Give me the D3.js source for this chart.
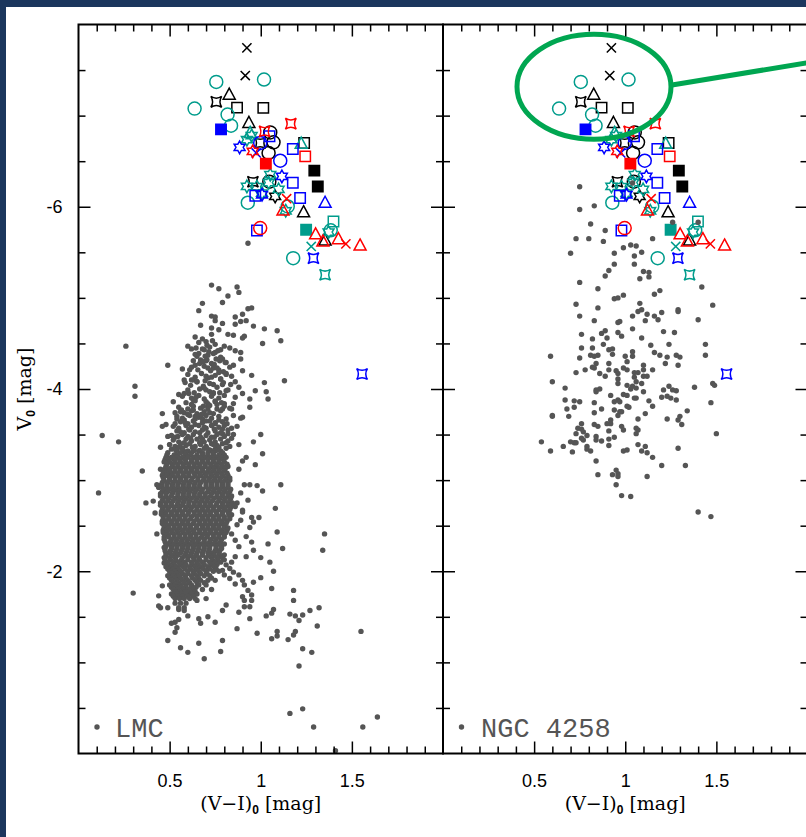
<!DOCTYPE html>
<html lang="en">
<head>
<meta charset="utf-8">
<title>LMC vs NGC 4258 CMD</title>
<script src="https://d3js.org/d3.v7.min.js"></script>
<style>
  body { margin: 0; background: #fff; }
  svg { display: block; }
</style>
</head>
<body>
<svg width="806" height="837"></svg>
<script>
// ---- tick values ----
const xMajorTicks = [0.5, 1, 1.5];
const yMajorTicks = [-6, -4, -2];

// ---- LMC field stars (grey dots), [V-I, V] ----
const lmcScatter = [
  [0.73,-5.14],[0.77,-5.10],[0.87,-5.12],[0.88,-5.06],[0.82,-5.02],[0.68,-4.94],[0.79,-4.95],[0.66,-4.86],
  [0.95,-4.89],[0.93,-4.88],[0.90,-4.82],[0.86,-4.79],[0.73,-4.80],[0.75,-4.79],[0.75,-4.75],[0.79,-4.72],
  [0.89,-4.74],[0.92,-4.75],[0.67,-4.70],[0.73,-4.67],[0.86,-4.71],[0.96,-4.69],[1.02,-4.66],[1.09,-4.64],
  [0.77,-4.65],[0.82,-4.60],[0.85,-4.59],[0.91,-4.58],[0.90,-4.56],[0.73,-4.60],[0.64,-4.57],[0.68,-4.55],
  [0.70,-4.52],[0.75,-4.49],[1.11,-4.53],[1.01,-4.50],[0.26,-4.47],[0.60,-4.47],[0.62,-4.44],[0.69,-4.43],
  [0.75,-4.40],[0.78,-4.43],[0.83,-4.45],[0.86,-4.42],[0.89,-4.40],[0.66,-4.39],[0.65,-4.36],[0.71,-4.37],
  [0.79,-4.33],[0.89,-4.33],[0.67,-4.32],[0.70,-4.31],[0.49,-4.26],[0.73,-4.28],[0.81,-4.29],[0.85,-4.26],
  [0.57,-4.22],[0.61,-4.21],[0.74,-4.23],[0.77,-4.21],[0.90,-4.20],[0.95,-4.15],[0.81,-4.17],[0.84,-4.14],
  [0.70,-4.14],[0.73,-4.13],[0.78,-4.11],[1.13,-4.09],[1.02,-4.07],[0.31,-4.03],[0.58,-4.10],[0.63,-4.10],
  [0.65,-4.08],[0.86,-4.08],[0.79,-4.05],[0.82,-3.99],[0.88,-4.02],[0.97,-3.98],[1.03,-3.97],[0.31,-3.92],
  [0.55,-3.94],[0.58,-3.95],[0.69,-4.01],[0.74,-3.96],[0.90,-3.95],[0.94,-3.89],[1.04,-3.89],[0.52,-3.86],
  [0.63,-3.88],[0.75,-3.86],[0.80,-3.84],[0.85,-3.84],[0.94,-3.80],[0.46,-3.73],[0.53,-3.74],[0.56,-3.75],
  [0.63,-3.77],[0.71,-3.81],[0.79,-3.78],[0.84,-3.78],[0.89,-3.68],[0.90,-3.69],[0.48,-3.61],[0.46,-3.59],
  [0.54,-3.67],[0.58,-3.66],[0.64,-3.70],[0.68,-3.67],[0.75,-3.63],[0.87,-3.59],[1.00,-3.50],[0.13,-3.49],
  [0.22,-3.42],[0.49,-3.48],[0.50,-3.39],[0.45,-3.36],[0.79,-3.51],[0.82,-3.51],[0.84,-3.46],[0.88,-3.39],
  [0.96,-3.42],[1.01,-3.29],[0.92,-3.25],[0.97,-3.17],[0.90,-3.21],[0.35,-3.10],[0.45,-3.12],[0.49,-3.06],
  [0.88,-3.12],[0.43,-2.95],[0.44,-2.92],[0.11,-2.86],[0.94,-2.95],[0.98,-2.94],[1.01,-2.88],[1.11,-2.95],
  [0.91,-2.95],[0.89,-2.86],[0.37,-2.75],[0.41,-2.77],[0.42,-2.64],[0.87,-2.75],[0.90,-2.67],[0.93,-2.78],
  [1.08,-2.69],[0.95,-2.59],[0.99,-2.59],
  [0.43,-2.41],[0.96,-2.54],[0.90,-2.65],[0.94,-2.48],[0.92,-2.38],[1.09,-2.43],[1.04,-2.30],
  [1.12,-2.25],[1.35,-2.41],[1.34,-2.23],[0.95,-2.32],[0.96,-2.23],[1.00,-2.15],[0.92,-2.16],[1.05,-2.10],
  [1.07,-2.00],[0.47,-2.26],[0.47,-2.09],[0.30,-1.76],[0.44,-1.73],[0.44,-1.62],[0.49,-1.60],[0.45,-1.60],
  [0.46,-1.84],[0.55,-1.58],[0.58,-1.57],[0.60,-1.51],[0.66,-1.48],[0.65,-1.68],[0.71,-1.50],[0.75,-1.44],
  [0.79,-1.57],[0.81,-1.63],[0.67,-1.43],[0.88,-1.55],[0.91,-1.61],[0.94,-1.48],[0.95,-1.68],[0.96,-1.88],
  [1.00,-1.93],[1.06,-1.81],[1.03,-1.51],[1.06,-1.54],[1.07,-1.58],[0.98,-1.32],[1.06,-1.26],[1.09,-1.29],
  [1.09,-1.34],[1.15,-1.25],[1.18,-1.68],[1.18,-1.79],[1.16,-1.53],[1.19,-1.51],[1.21,-1.46],[1.23,-1.52],
  [1.27,-1.57],[1.32,-1.60],[1.31,-1.40],[1.18,-1.30],[1.19,-1.34],[1.23,-1.15],[1.28,-1.11],[1.21,-0.96],
  [1.55,-1.34],[1.16,-0.44],[1.23,-0.49],[1.29,-0.29],[1.56,-0.29],[1.64,-0.40],[1.41,-0.03],
  [0.49,-1.24],[0.56,-1.16],[0.60,-1.11],[0.66,-1.21],[0.69,-1.04],[0.78,-1.12],[0.79,-1.24],[0.87,-1.37],
  [0.53,-1.33],[0.54,-1.38],[0.53,-1.44],[0.55,-1.47],[0.51,-1.43],
  [0.83,-2.03],[0.85,-1.99],[0.88,-1.96],[0.90,-1.90],[0.91,-1.85],[0.93,-1.79],[0.95,-1.74],[0.86,-1.86],
  [0.83,-1.92],[0.80,-1.96],[0.91,-1.68],[0.90,-1.72],[0.94,-1.61],[0.79,-2.01],[0.81,-2.07],[0.84,-2.10],
  [0.86,-2.16],[0.80,-2.18],[0.88,-2.27],[0.86,-2.34],[0.84,-2.41],[0.87,-2.51],[0.89,-2.56],[0.84,-2.62],
  [0.86,-2.71],[0.93,-5.60]
];

// LMC upper body (crowded but resolved)
const lmcUpper = [
  [0.66,-4.51],[0.705,-4.48],[0.735,-4.53],[0.68,-4.44],[0.72,-4.46],[0.765,-4.42],[0.80,-4.47],
  [0.64,-4.38],[0.695,-4.36],[0.74,-4.39],[0.78,-4.35],[0.63,-4.31],[0.665,-4.28],[0.705,-4.32],[0.745,-4.27],[0.775,-4.31],[0.805,-4.29],
  [0.62,-4.24],[0.655,-4.21],[0.69,-4.25],[0.725,-4.20],[0.76,-4.23],[0.795,-4.19],[0.83,-4.24],
  [0.60,-4.16],[0.64,-4.13],[0.675,-4.17],[0.71,-4.12],[0.75,-4.15],[0.78,-4.11],[0.81,-4.16],
  [0.585,-4.07],[0.615,-4.04],[0.65,-4.08],[0.685,-4.03],[0.72,-4.06],[0.76,-4.02],[0.795,-4.07],[0.835,-4.05],
  [0.60,-3.99],[0.635,-3.96],[0.70,-3.99],[0.74,-3.95],[0.81,-3.98],
  [0.57,-3.92],[0.62,-3.90],[0.66,-3.93],[0.69,-3.89],[0.73,-3.92],[0.77,-3.90],[0.80,-3.93],[0.86,-3.91],
  [0.59,-3.85],[0.64,-3.87],[0.71,-3.84],[0.75,-3.87],[0.785,-3.85],
  [0.55,-3.80],[0.60,-3.78],[0.63,-3.81],[0.67,-3.79],[0.72,-3.82],[0.76,-3.78],[0.80,-3.81],[0.83,-3.79],
  [0.58,-3.74],[0.62,-3.76],[0.65,-3.73],[0.69,-3.75],[0.74,-3.73],[0.78,-3.76],
  [0.54,-3.70],[0.57,-3.68],[0.61,-3.71],[0.66,-3.69],[0.70,-3.71],[0.73,-3.68],[0.77,-3.70],[0.81,-3.67],[0.85,-3.71],
  [0.56,-3.64],[0.60,-3.62],[0.63,-3.65],[0.68,-3.63],[0.72,-3.65],[0.75,-3.62],[0.79,-3.64],
  [0.52,-3.59],[0.55,-3.57],[0.59,-3.60],[0.62,-3.58],[0.66,-3.60],[0.70,-3.57],[0.73,-3.60],[0.77,-3.58],[0.80,-3.60],[0.84,-3.57],
  [0.54,-3.54],[0.58,-3.52],[0.61,-3.55],[0.64,-3.53],[0.68,-3.55],[0.71,-3.52],[0.75,-3.54],[0.78,-3.52],[0.82,-3.55],
  [0.51,-3.49],[0.53,-3.47],[0.57,-3.50],[0.60,-3.48],[0.63,-3.50],[0.67,-3.47],[0.70,-3.49],[0.73,-3.47],[0.76,-3.50],[0.80,-3.48],[0.85,-3.50],
  [0.52,-3.44],[0.55,-3.42],[0.59,-3.45],[0.62,-3.43],[0.65,-3.45],[0.69,-3.42],[0.72,-3.44],[0.75,-3.42],[0.78,-3.45],[0.82,-3.43],
  [0.50,-3.39],[0.53,-3.37],[0.56,-3.40],[0.59,-3.38],[0.61,-3.40],[0.64,-3.37],[0.67,-3.39],[0.70,-3.37],[0.73,-3.40],[0.76,-3.38],[0.79,-3.40],[0.83,-3.37],
  [0.51,-3.34],[0.54,-3.33],[0.57,-3.35],[0.60,-3.32],[0.63,-3.34],[0.66,-3.32],[0.69,-3.35],[0.72,-3.33],[0.75,-3.34],[0.78,-3.32],[0.81,-3.35],
  [0.645,-4.45],[0.715,-4.41],[0.755,-4.33],[0.685,-4.30],[0.64,-4.26],[0.71,-4.23],[0.77,-4.18],[0.62,-4.10],
  [0.695,-4.09],[0.74,-4.05],[0.665,-4.00],[0.72,-3.97],[0.775,-3.96],[0.605,-3.95],[0.645,-3.91],[0.70,-3.86],
  [0.76,-3.83],[0.62,-3.83],[0.685,-3.81],[0.565,-3.77],[0.71,-3.78],[0.60,-3.72],[0.675,-3.72],[0.72,-3.74],
  [0.64,-3.67],[0.70,-3.65],[0.585,-3.63],[0.77,-3.66],[0.815,-3.62],[0.64,-3.61],[0.53,-3.62],[0.605,-3.56],
  [0.69,-3.58],[0.745,-3.56],[0.56,-3.53],[0.665,-3.52],[0.79,-3.56],[0.545,-3.48],[0.615,-3.46],[0.68,-3.45],
  [0.745,-3.47],[0.58,-3.41],[0.665,-3.41],[0.74,-3.39],[0.81,-3.41],[0.55,-3.36],[0.625,-3.36],[0.705,-3.35],
  [0.77,-3.36]
];

// LMC saturated core, read row by row: [V, [V-I values]]
const lmcCoreRows = [
  [-3.325,[.535,.575,.635,.665,.725,.755]],
  [-3.30,[.49,.56,.59,.62,.68,.71,.74,.79]],
  [-3.275,[.485,.525,.545,.585,.615,.65,.68,.71,.74,.77,.80]],
  [-3.25,[.48,.51,.54,.57,.60,.635,.665,.695,.725,.755,.785,.81]],
  [-3.225,[.475,.495,.525,.555,.585,.62,.65,.68,.71,.74,.77,.795]],
  [-3.20,[.47,.50,.53,.56,.59,.62,.65,.68,.71,.74,.77,.80]],
  [-3.175,[.485,.515,.545,.575,.605,.635,.665,.695,.725,.755,.785,.815]],
  [-3.15,[.48,.515,.545,.575,.605,.635,.665,.695,.73,.76,.79,.82]],
  [-3.125,[.475,.50,.53,.56,.59,.62,.65,.68,.715,.745,.775,.805]],
  [-3.10,[.47,.50,.53,.56,.59,.62,.65,.68,.71,.74,.77,.80]],
  [-3.075,[.465,.485,.515,.545,.575,.605,.635,.665,.695,.725,.755,.785,.815]],
  [-3.05,[.46,.485,.515,.545,.575,.605,.64,.67,.70,.73,.76,.79,.82]],
  [-3.025,[.465,.50,.53,.56,.59,.625,.655,.69,.72,.75,.78,.81,.83]],
  [-3.00,[.47,.50,.53,.56,.59,.62,.655,.685,.715,.745,.775,.805,.83]],
  [-2.975,[.46,.49,.52,.55,.58,.61,.64,.67,.70,.73,.76,.79,.82]],
  [-2.95,[.455,.485,.515,.545,.575,.605,.635,.665,.70,.73,.76,.79,.82]],
  [-2.925,[.455,.485,.515,.545,.575,.605,.635,.665,.70,.73,.76,.79,.82]],
  [-2.90,[.47,.50,.53,.56,.59,.62,.65,.68,.715,.745,.775,.805,.835]],
  [-2.875,[.46,.49,.52,.55,.58,.61,.64,.675,.71,.74,.77,.80,.83]],
  [-2.85,[.45,.48,.515,.545,.575,.605,.635,.665,.695,.73,.76,.79,.82]],
  [-2.825,[.45,.48,.51,.545,.575,.605,.635,.665,.695,.725,.76,.79,.82,.84]],
  [-2.80,[.465,.495,.53,.56,.59,.62,.65,.68,.71,.745,.775,.805,.835]],
  [-2.775,[.46,.49,.52,.55,.58,.61,.645,.675,.705,.735,.77,.80,.83]],
  [-2.75,[.45,.48,.51,.545,.575,.605,.635,.665,.695,.725,.76,.79,.82,.845]],
  [-2.725,[.45,.48,.51,.54,.57,.605,.635,.665,.695,.725,.755,.79,.82,.84]],
  [-2.70,[.465,.495,.525,.555,.59,.62,.65,.68,.71,.74,.775,.805,.835]],
  [-2.675,[.46,.49,.525,.555,.585,.615,.65,.68,.71,.74,.77,.80,.83]],
  [-2.65,[.455,.48,.51,.54,.57,.605,.635,.665,.695,.725,.755,.79,.82]],
  [-2.625,[.455,.48,.51,.54,.57,.60,.635,.665,.695,.725,.76,.79,.825]],
  [-2.60,[.465,.495,.525,.555,.585,.62,.65,.68,.71,.74,.77,.80,.83]],
  [-2.575,[.465,.495,.525,.555,.585,.615,.65,.68,.71,.74,.77,.80,.83]],
  [-2.55,[.46,.48,.51,.54,.57,.60,.635,.665,.695,.725,.755,.785,.815]],
  [-2.525,[.46,.48,.51,.54,.57,.60,.63,.665,.695,.725,.755,.785,.81]],
  [-2.50,[.47,.495,.525,.555,.585,.615,.65,.68,.71,.74,.77,.80]],
  [-2.475,[.47,.495,.525,.555,.585,.615,.645,.68,.71,.74,.77,.80,.82]],
  [-2.45,[.465,.48,.51,.54,.57,.60,.63,.665,.695,.725,.755,.785,.815]],
  [-2.425,[.465,.485,.515,.545,.575,.605,.635,.665,.695,.725,.755,.785,.81]],
  [-2.40,[.475,.495,.525,.555,.585,.615,.645,.68,.71,.74,.77,.80]],
  [-2.375,[.47,.495,.525,.555,.585,.615,.645,.675,.705,.74,.77,.80]],
  [-2.35,[.47,.51,.54,.57,.60,.63,.66,.69,.725,.755,.785]],
  [-2.325,[.475,.505,.535,.565,.595,.625,.655,.69,.72,.75,.78]],
  [-2.30,[.48,.495,.525,.555,.585,.615,.645,.675,.705,.74,.77,.80]],
  [-2.275,[.48,.51,.54,.57,.60,.63,.66,.69,.72,.755,.785]],
  [-2.25,[.475,.51,.54,.57,.60,.63,.66,.69,.72,.755,.785]],
  [-2.225,[.475,.505,.535,.565,.595,.625,.655,.685,.715,.75,.775]],
  [-2.20,[.48,.50,.53,.56,.59,.62,.65,.68,.71,.735,.77]],
  [-2.175,[.48,.515,.545,.585,.615,.645,.68,.715,.745,.775]],
  [-2.15,[.47,.50,.53,.57,.60,.63,.66,.70,.73,.76,.79]],
  [-2.125,[.475,.505,.535,.565,.60,.635,.665,.70,.735,.765,.80]],
  [-2.10,[.49,.52,.55,.58,.62,.65,.68,.72,.75,.78]],
  [-2.075,[.495,.525,.56,.59,.625,.655,.69,.73,.76]],
  [-2.05,[.48,.51,.54,.575,.61,.64,.67,.71,.745]],
  [-2.025,[.49,.52,.55,.585,.615,.65,.685,.72,.755]],
  [-2.00,[.50,.53,.56,.60,.63,.66,.70,.74,.77]],
  [-1.975,[.51,.54,.57,.60,.635,.67,.705]],
  [-1.95,[.49,.52,.55,.585,.62,.65,.69,.72]],
  [-1.925,[.50,.53,.56,.59,.625,.66,.73]],
  [-1.90,[.51,.54,.57,.60,.64,.67,.71,.75]],
  [-1.875,[.52,.55,.58,.61,.65,.69]],
  [-1.85,[.50,.53,.56,.59,.62,.66,.70]],
  [-1.825,[.51,.54,.565,.59,.62,.645]],
  [-1.80,[.52,.545,.575,.60,.63,.68,.73]],
  [-1.775,[.53,.555,.585,.61,.64]],
  [-1.75,[.51,.54,.565,.59,.62,.65]],
  [-1.725,[.52,.545,.57,.60,.63]],
  [-1.70,[.53,.555,.58,.61,.64,.70]],
  [-1.65,[.53,.56,.59]],
  [-1.60,[.55,.58]]
];

// ---- NGC 4258 field stars ----
const ngcStars = [
  [0.75,-6.22],[0.75,-5.97],[0.83,-6.01],[1.04,-6.26],
  [0.81,-5.81],[0.89,-5.74],[0.73,-5.65],[0.80,-5.65],[0.88,-5.62],[1.15,-5.65],[1.26,-5.83],[1.40,-5.83],
  [0.70,-5.49],[0.94,-5.49],[0.99,-5.55],[1.03,-5.58],[1.06,-5.57],[1.05,-5.46],[1.09,-5.50],
  [0.94,-5.37],[1.05,-5.37],[0.91,-5.30],[0.89,-5.24],[1.10,-5.29],[1.13,-5.28],[1.13,-5.23],[1.08,-5.21],
  [0.75,-5.17],[0.85,-5.10],[1.16,-5.04],[1.19,-5.08],[1.42,-5.12],
  [0.94,-4.99],[0.96,-5.00],[0.99,-5.03],[1.08,-4.94],[0.73,-4.93],[0.85,-4.89],[1.48,-4.92],
  [1.29,-4.87],[1.29,-4.85],[1.20,-4.84],[1.07,-4.85],[1.09,-4.87],[1.12,-4.82],[1.16,-4.80],[1.18,-4.76],
  [1.04,-4.80],[1.11,-4.75],[0.75,-4.80],[0.83,-4.75],[0.96,-4.73],[0.97,-4.74],[1.40,-4.76],
  [0.89,-4.64],[0.87,-4.61],[0.76,-4.60],[0.96,-4.62],[0.98,-4.58],[1.04,-4.66],[1.21,-4.63],[1.27,-4.62],
  [0.82,-4.55],[0.90,-4.56],[0.88,-4.49],[1.09,-4.56],[1.24,-4.49],[1.44,-4.49],
  [0.76,-4.45],[0.82,-4.45],[0.91,-4.43],[0.93,-4.44],[0.93,-4.38],[1.14,-4.48],[1.16,-4.40],[1.19,-4.37],
  [1.22,-4.28],[1.23,-4.35],[1.28,-4.37],[1.30,-4.35],[1.29,-4.26],[1.44,-4.37],
  [0.59,-4.36],[0.75,-4.34],[0.81,-4.37],[0.83,-4.36],[0.85,-4.37],[1.00,-4.36],[1.01,-4.30],[1.04,-4.41],[1.04,-4.36],
  [0.84,-4.28],[0.83,-4.23],[0.91,-4.28],[0.99,-4.23],[1.10,-4.26],[1.10,-4.21],[1.15,-4.21],
  [0.78,-4.21],[0.82,-4.24],[0.95,-4.20],[0.91,-4.21],[0.96,-4.17],[0.89,-4.14],[0.86,-4.17],[0.73,-4.18],
  [1.01,-4.21],[1.05,-4.18],[1.05,-4.13],[1.07,-4.18],[1.10,-4.14],[1.12,-4.14],[1.06,-4.08],[1.09,-4.06],
  [0.96,-4.11],[0.96,-4.06],[1.01,-4.04],[1.04,-4.03],[1.03,-4.00],[1.06,-4.01],[1.06,-3.90],[1.10,-3.97],
  [0.60,-4.08],[0.67,-4.01],[0.84,-3.99],[0.86,-4.00],[0.84,-3.97],[0.92,-3.93],[0.99,-3.94],[1.01,-3.93],
  [0.96,-3.88],[0.94,-3.86],[0.97,-3.86],[1.05,-3.90],[1.13,-3.87],[1.15,-3.81],
  [1.21,-3.99],[1.24,-4.03],[1.26,-3.99],[1.28,-3.98],[1.20,-3.91],[1.23,-3.92],[1.28,-3.88],[1.25,-3.90],
  [1.38,-4.02],[1.48,-4.06],[1.49,-4.04],[1.47,-3.85],
  [0.67,-3.88],[0.72,-3.87],[0.75,-3.86],[0.83,-3.85],[0.68,-3.78],[0.72,-3.80],[0.87,-3.78],[0.83,-3.74],
  [0.94,-3.77],[0.97,-3.75],[1.01,-3.81],[1.02,-3.80],
  [0.60,-3.71],[0.60,-3.70],[0.69,-3.70],[0.92,-3.66],[0.90,-3.62],[0.96,-3.71],[0.98,-3.75],[1.11,-3.73],
  [1.07,-3.67],[1.23,-3.67],[1.29,-3.66],[1.30,-3.70],[1.31,-3.61],[1.34,-3.76],
  [0.76,-3.62],[0.83,-3.61],[0.85,-3.59],[0.92,-3.62],[0.98,-3.59],[0.99,-3.55],[1.06,-3.57],[1.07,-3.55],
  [0.74,-3.57],[0.76,-3.56],[0.77,-3.53],[0.73,-3.51],[0.79,-3.49],[0.76,-3.46],[0.72,-3.41],[0.70,-3.42],
  [0.73,-3.41],[0.77,-3.44],[0.84,-3.48],[0.84,-3.44],[0.87,-3.43],[0.91,-3.45],[0.91,-3.54],[0.94,-3.47],[1.06,-3.51],
  [0.54,-3.42],[0.66,-3.37],[0.71,-3.31],[0.79,-3.34],[0.81,-3.32],[0.79,-3.37],[0.91,-3.38],[0.99,-3.32],
  [1.01,-3.33],[1.07,-3.39],[1.11,-3.37],[1.09,-3.32],[1.12,-3.30],[1.15,-3.25],[1.29,-3.35],[1.50,-3.51],
  [0.59,-3.32],[0.84,-3.21],[0.85,-3.06],[0.93,-3.06],[0.95,-3.11],[0.96,-3.07],[0.96,-3.04],[0.95,-2.95],
  [1.12,-3.04],[1.20,-3.16],[1.33,-3.16],[0.98,-2.83],[1.03,-2.82],[1.40,-2.65],[1.47,-2.60]
];

// ---- Cepheid / comparison samples (same in both panels) ----
const blackCross = [[0.924,-7.744],[0.915,-7.440]];
const blackTriangle = [[0.827,-7.231],[0.935,-6.920],[1.235,-5.940],[1.353,-5.632]];
const blackSquare = [[0.870,-7.088],[1.014,-7.085],[1.238,-6.700]];
const blackFilledSquare = [[1.294,-6.396],[1.313,-6.223]];
const blackCircle = [[1.052,-6.816],[1.070,-6.707],[1.043,-6.590],[1.047,-6.275]];
const blackStar4 = [[0.756,-7.151],[0.997,-6.700],[0.957,-6.275]];
const blackStar6 = [[1.079,-6.113]];
const tealCircle = [[0.756,-7.370],[1.018,-7.396],[0.637,-7.077],[0.818,-7.011],[0.837,-6.890],
                    [0.929,-6.044],[1.148,-6.003],[1.384,-5.742],[1.178,-5.436]];
const tealTriangle = [[0.942,-6.810],[1.222,-6.692]];
const tealSquare = [[1.399,-5.838]];
const tealFilledSquare = [[1.249,-5.747]];
const tealStar6 = [[0.924,-6.736],[0.950,-6.780],[1.052,-6.352],[1.044,-6.265],[1.098,-6.190],
                   [0.979,-6.220],[1.007,-6.150],[0.924,-6.223],[1.137,-5.956],[1.372,-5.722]];
const tealStar4 = [[1.353,-5.253]];
const tealCross = [[1.277,-5.564]];
const blueSquare = [[1.048,-6.773],[1.176,-6.634],[1.176,-6.264],[0.970,-6.121],[1.216,-6.096],[0.979,-5.740]];
const blueFilledSquare = [[0.782,-6.849]];
const blueCircle = [[0.997,-6.700],[1.107,-6.505]];
const blueTriangle = [[1.353,-6.044]];
const blueStar6 = [[0.884,-6.652],[1.116,-6.333],[1.007,-6.132]];
const blueStar4 = [[1.289,-5.436],[1.556,-4.165]];
const blueCross = [[0.975,-6.590]];
const redSquare = [[1.244,-6.553]];
const redFilledSquare = [[1.028,-6.473]];
const redCircle = [[0.997,-5.766]];
const redTriangle = [[1.122,-5.959],[1.301,-5.698],[1.341,-5.619],[1.426,-5.645],[1.545,-5.575]];
const redStar6 = [[0.956,-6.608]];
const redStar4 = [[1.165,-6.912],[1.021,-6.827]];
const redCross = [[1.142,-6.088],[1.467,-5.593]];

// highlighted region in the NGC 4258 panel (data units)
const highlight = { cx: 0.8285, cy: -7.317, rx: 0.4225, ry: 0.576 };
const pointer = [[1.2565, -7.336], [2.01, -7.584]];

// ---------------------------------------------------------------
const BLACK = "#000", TEAL = "#009c8c", BLUE = "#0000ff", RED = "#ff0000";
const symbolSeries = [
  { data: blackCross, shape: "cross", color: BLACK },
  { data: blackTriangle, shape: "triangle", color: BLACK },
  { data: blackSquare, shape: "square", color: BLACK },
  { data: blackFilledSquare, shape: "square", color: BLACK, filled: true },
  { data: blackCircle, shape: "circle", color: BLACK },
  { data: blackStar4, shape: "star4", color: BLACK },
  { data: blackStar6, shape: "star6", color: BLACK },
  { data: tealCircle, shape: "circle", color: TEAL },
  { data: tealTriangle, shape: "triangle", color: TEAL },
  { data: tealSquare, shape: "square", color: TEAL },
  { data: tealFilledSquare, shape: "square", color: TEAL, filled: true },
  { data: tealStar6, shape: "star6", color: TEAL },
  { data: tealStar4, shape: "star4", color: TEAL },
  { data: tealCross, shape: "cross", color: TEAL },
  { data: blueSquare, shape: "square", color: BLUE },
  { data: blueFilledSquare, shape: "square", color: BLUE, filled: true },
  { data: blueCircle, shape: "circle", color: BLUE },
  { data: blueTriangle, shape: "triangle", color: BLUE },
  { data: blueStar6, shape: "star6", color: BLUE },
  { data: blueStar4, shape: "star4", color: BLUE },
  { data: blueCross, shape: "cross", color: BLUE },
  { data: redSquare, shape: "square", color: RED },
  { data: redFilledSquare, shape: "square", color: RED, filled: true },
  { data: redCircle, shape: "circle", color: RED },
  { data: redTriangle, shape: "triangle", color: RED },
  { data: redStar6, shape: "star6", color: RED },
  { data: redStar4, shape: "star4", color: RED },
  { data: redCross, shape: "cross", color: RED }
];

const lmcStars = lmcScatter.concat(lmcUpper, lmcCoreRows.flatMap(r => r[1].map(v => [v, r[0]])));

function starPath(n, R, r) {
  const p = [];
  for (let i = 0; i < 2 * n; i++) {
    const a = Math.PI * i / n - Math.PI / 2, rad = i % 2 ? r : R;
    p.push((rad * Math.cos(a)).toFixed(2) + "," + (rad * Math.sin(a)).toFixed(2));
  }
  return "M" + p.join("L") + "Z";
}
const shapePaths = {
  circle: "M6.5,0A6.5,6.5 0 1,1 -6.5,0A6.5,6.5 0 1,1 6.5,0Z",
  square: "M-5.2,-5.2H5.2V5.2H-5.2Z",
  triangle: "M0,-6.5L6,4.6H-6Z",
  cross: "M-4.6,-4.6L4.6,4.6M-4.6,4.6L4.6,-4.6",
  star4: "M-5.4,-5.4Q0,-2 5.4,-5.4Q2,0 5.4,5.4Q0,2 -5.4,5.4Q-2,0 -5.4,-5.4Z",
  star6: starPath(6, 6.3, 3.6)
};

// ---- layout ----
const W = 806, H = 837;
const plotTop = 24.5, plotBottom = 753.5, panelW = 364.5;
const svg = d3.select("svg");
svg.append("rect").attr("width", W).attr("height", H).attr("fill", "#fff");
svg.append("rect").attr("width", W).attr("height", 7).attr("fill", "#1b365d");
svg.append("rect").attr("width", 6).attr("height", H).attr("fill", "#1b365d");

const x = d3.scaleLinear().domain([0, 2]).range([0, panelW]);
const y = d3.scaleLinear().domain([-8, 0]).range([plotTop, plotBottom]);

const panels = [
  { name: "LMC", left: 78.5, stars: lmcStars, yLabels: true, ring: false },
  { name: "NGC 4258", left: 443, stars: ngcStars, yLabels: false, ring: true }
];

const tickFont = "'Liberation Sans', Arial, Helvetica, sans-serif";
const xMinor = d3.range(1, 20).map(i => i / 10).filter(v => !xMajorTicks.includes(v));
const yMinor = d3.range(-15, 0).map(i => i / 2).filter(v => !yMajorTicks.includes(v));

function styleAxis(sel) {
  sel.select(".domain").remove();
  sel.selectAll(".tick line").attr("stroke", "#000").attr("stroke-width", 1.5);
  sel.attr("font-family", tickFont).attr("font-size", 18);
  sel.selectAll(".tick text").attr("fill", "#000");
}

panels.forEach((p, pi) => {
  const g = svg.append("g").attr("transform", `translate(${p.left},0)`);
  const clipId = "clip" + pi;
  g.append("clipPath").attr("id", clipId).append("rect")
    .attr("x", 0).attr("y", plotTop).attr("width", panelW).attr("height", plotBottom - plotTop);

  const plot = g.append("g").attr("clip-path", `url(#${clipId})`);

  // comparison samples
  symbolSeries.forEach(s => {
    plot.append("g").selectAll("path").data(s.data).join("path")
      .attr("transform", d => `translate(${x(d[0])},${y(d[1])})`)
      .attr("d", shapePaths[s.shape])
      .attr("fill", s.filled ? s.color : "none")
      .attr("stroke", s.color)
      .attr("stroke-width", 1.5);
  });

  // field stars
  plot.append("g").selectAll("circle").data(p.stars).join("circle")
    .attr("cx", d => x(d[0])).attr("cy", d => y(d[1]))
    .attr("r", 2.7).attr("fill", "#555");

  if (p.ring) {
    plot.append("ellipse")
      .attr("cx", x(highlight.cx)).attr("cy", y(highlight.cy))
      .attr("rx", x(highlight.rx) - x(0)).attr("ry", y(0) - y(-highlight.ry))
      .attr("fill", "none").attr("stroke", "#00a651").attr("stroke-width", 5);
    plot.append("path")
      .attr("d", d3.line().x(d => x(d[0])).y(d => y(d[1]))(pointer))
      .attr("fill", "none").attr("stroke", "#00a651").attr("stroke-width", 5);
  }

  // axes: bottom / top
  g.append("g").attr("transform", `translate(0,${plotBottom})`)
    .call(d3.axisBottom(x).tickValues(xMajorTicks).tickSize(-12).tickSizeOuter(0).tickPadding(21).tickFormat(d => String(d)))
    .call(styleAxis);
  g.append("g").attr("transform", `translate(0,${plotBottom})`)
    .call(d3.axisBottom(x).tickValues(xMinor).tickSize(-7).tickSizeOuter(0).tickFormat(() => ""))
    .call(styleAxis);
  g.append("g").attr("transform", `translate(0,${plotTop})`)
    .call(d3.axisTop(x).tickValues(xMajorTicks).tickSize(-12).tickSizeOuter(0).tickFormat(() => ""))
    .call(styleAxis);
  g.append("g").attr("transform", `translate(0,${plotTop})`)
    .call(d3.axisTop(x).tickValues(xMinor).tickSize(-7).tickSizeOuter(0).tickFormat(() => ""))
    .call(styleAxis);

  // axes: left / right
  g.append("g")
    .call(d3.axisLeft(y).tickValues(yMajorTicks).tickSize(-12).tickSizeOuter(0).tickPadding(16)
      .tickFormat(p.yLabels ? (d => String(d)) : (() => "")))
    .call(styleAxis);
  g.append("g")
    .call(d3.axisLeft(y).tickValues(yMinor).tickSize(-7).tickSizeOuter(0).tickFormat(() => ""))
    .call(styleAxis);
  g.append("g").attr("transform", `translate(${panelW},0)`)
    .call(d3.axisRight(y).tickValues(yMajorTicks).tickSize(-12).tickSizeOuter(0).tickFormat(() => ""))
    .call(styleAxis);
  g.append("g").attr("transform", `translate(${panelW},0)`)
    .call(d3.axisRight(y).tickValues(yMinor).tickSize(-7).tickSizeOuter(0).tickFormat(() => ""))
    .call(styleAxis);

  // frame
  g.append("rect").attr("x", 0).attr("y", plotTop)
    .attr("width", panelW).attr("height", plotBottom - plotTop)
    .attr("fill", "none").attr("stroke", "#000").attr("stroke-width", 2);

  // panel label
  g.append("circle").attr("cx", 18.5).attr("cy", 727).attr("r", 2.7).attr("fill", "#555");
  g.append("text").attr("x", pi === 0 ? 36.5 : 38).attr("y", 737)
    .attr("font-family", "'Liberation Mono', 'Courier New', monospace")
    .attr("font-size", 27).attr("fill", "#555").text(p.name);

  // x title
  const xt = g.append("text").attr("x", panelW / 2).attr("y", 810)
    .attr("text-anchor", "middle")
    .attr("font-family", "'DejaVu Serif', serif").attr("font-size", 19).attr("fill", "#000");
  xt.append("tspan").text("(V\u2212I)");
  xt.append("tspan").attr("dy", 4).attr("font-family", tickFont).attr("font-weight", "bold")
    .attr("font-size", 12).text("0");
  xt.append("tspan").attr("dy", -4).text(" [mag]");
});

// y title
const yt = svg.append("text")
  .attr("transform", `translate(31,${(plotTop + plotBottom) / 2}) rotate(-90)`)
  .attr("text-anchor", "middle")
  .attr("font-family", "'DejaVu Serif', serif").attr("font-size", 19).attr("fill", "#000");
yt.append("tspan").text("V");
yt.append("tspan").attr("dy", 4).attr("font-family", tickFont).attr("font-weight", "bold")
  .attr("font-size", 12).text("0");
yt.append("tspan").attr("dy", -4).text(" [mag]");
</script>
</body>
</html>
